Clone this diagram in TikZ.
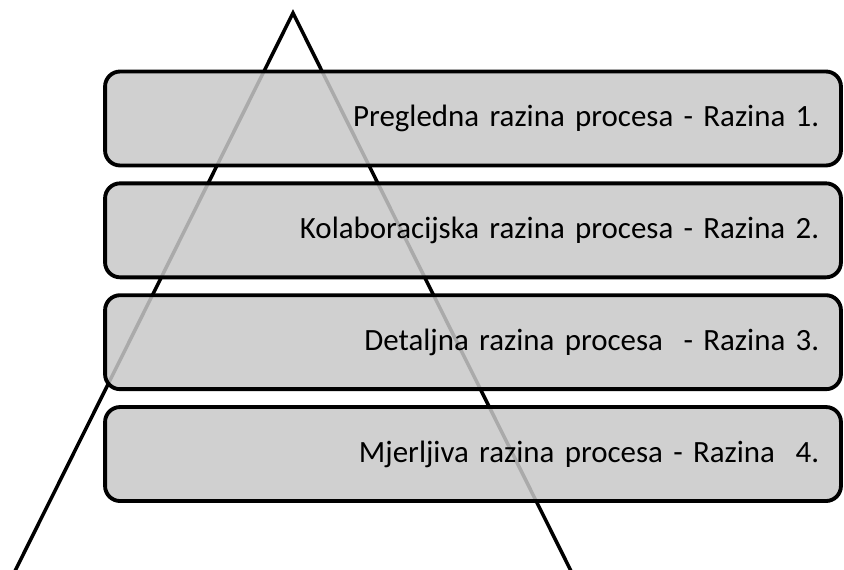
\documentclass[tikz,border=0pt]{standalone}
\usepackage{fontspec}
\setmainfont[WordSpace=0.85]{Carlito}
\usetikzlibrary{positioning}
\definecolor{boxgray}{RGB}{200,200,200}

\begin{document}
\begin{tikzpicture}[x=0.02cm,y=-0.02cm,
  node distance=0.28cm,
  levelbox/.style={rectangle,rounded corners=0.3cm,draw=black,line width=2.2pt,fill=boxgray,fill opacity=0.85,text opacity=1,minimum width=14.72cm,minimum height=1.88cm,text width=13.85cm,inner xsep=0.4cm,align=right,font=\fontsize{17.6}{20}\selectfont},
  edge/.style={line width=2pt,black}]
\useasboundingbox (0,0) rectangle (844,570);
% pyramid behind the levels
\coordinate (apex) at (293,13);
\coordinate (baseL) at (13,575);
\coordinate (baseR) at (573,575);
\draw[edge] (baseL) -- (apex) -- (baseR);
% levels
\node[levelbox] (l1) at (473,118.5) {Pregledna razina procesa - Razina 1.};
\node[levelbox,below=of l1] (l2) {Kolaboracijska razina procesa - Razina 2.};
\node[levelbox,below=of l2] (l3) {Detaljna razina procesa \ - Razina 3.};
\node[levelbox,below=of l3] (l4) {Mjerljiva razina procesa - Razina \ 4.};
\end{tikzpicture}
\end{document}
